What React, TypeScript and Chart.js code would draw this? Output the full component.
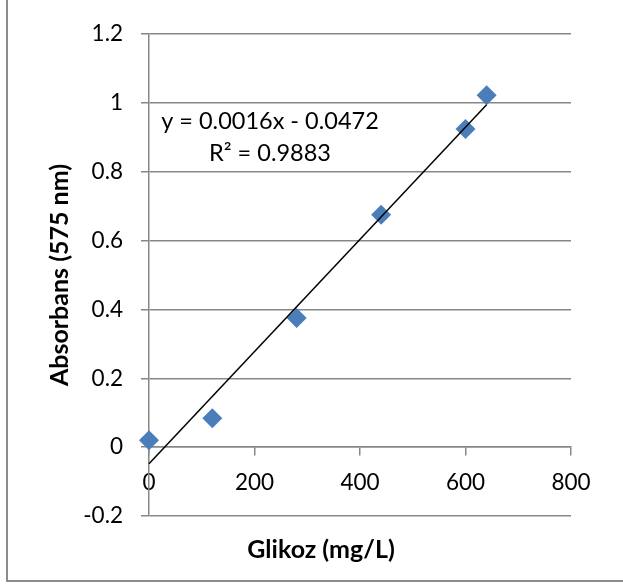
import React, { useEffect, useRef } from 'react';
import { Chart, registerables } from 'chart.js';

Chart.register(...registerables);

// ---- data ----
const glucose = [0, 120, 280, 440, 600, 640];
const absorbance = [0.02, 0.084, 0.375, 0.675, 0.924, 1.022];
const xTicks = [0, 200, 400, 600, 800];
const yTicks = [-0.2, 0, 0.2, 0.4, 0.6, 0.8, 1, 1.2];
const equationLines = ['y = 0.0016x - 0.0472', 'R² = 0.9883'];
const xTitle = 'Glikoz (mg/L)';
const yTitle = 'Absorbans (575 nm)';

// least-squares trend line computed from the data
function linearFit(xs: number[], ys: number[]) {
  const n = xs.length;
  const mx = xs.reduce((a, b) => a + b, 0) / n;
  const my = ys.reduce((a, b) => a + b, 0) / n;
  let sxy = 0;
  let sxx = 0;
  for (let i = 0; i < n; i++) {
    sxy += (xs[i] - mx) * (ys[i] - my);
    sxx += (xs[i] - mx) * (xs[i] - mx);
  }
  const m = sxy / sxx;
  return { m, b: my - m * mx };
}

const FONT = 'Lato, "Noto Sans", sans-serif';
const GRID = '#878787';

export default function App() {
  const ref = useRef<HTMLCanvasElement | null>(null);

  useEffect(() => {
    if (!ref.current) return;
    const { m, b } = linearFit(glucose, absorbance);
    const xMin = Math.min(...glucose);
    const xMax = Math.max(...glucose);
    const trend = [xMin, xMax].map((x) => ({ x, y: m * x + b }));
    const points = glucose.map((x, i) => ({ x, y: absorbance[i] }));

    const decorations = {
      id: 'decorations',
      afterDraw(chart: any) {
        const ctx = chart.ctx as CanvasRenderingContext2D;
        ctx.save();
        // outer chart frame (left and bottom edges visible)
        ctx.strokeStyle = '#8c8c8c';
        ctx.lineWidth = 2;
        ctx.beginPath();
        ctx.moveTo(7, 0);
        ctx.lineTo(7, 581);
        ctx.lineTo(623, 581);
        ctx.stroke();
        // trendline label
        ctx.fillStyle = '#000';
        ctx.textAlign = 'center';
        ctx.textBaseline = 'middle';
        ctx.font = `23.5px ${FONT}`;
        ctx.fillText(equationLines[0], 270, 121);
        ctx.fillText(equationLines[1], 270, 153);
        // axis titles
        ctx.font = `bold 25px ${FONT}`;
        ctx.fillText(xTitle, 321, 550);
        ctx.translate(60, 275);
        ctx.rotate(-Math.PI / 2);
        ctx.fillText(yTitle, 0, 0);
        ctx.restore();
      },
    };

    const chart = new Chart(ref.current, {
      type: 'scatter',
      data: {
        datasets: [
          {
            type: 'line',
            data: trend,
            borderColor: '#000',
            borderWidth: 1.5,
            pointRadius: 0,
            fill: false,
            clip: false,
          },
          {
            type: 'scatter',
            data: points,
            backgroundColor: '#4a7ebb',
            borderColor: '#4a7ebb',
            borderWidth: 0,
            pointStyle: 'rectRot',
            pointRadius: 10,
            clip: false,
          },
        ],
      } as any,
      options: {
        animation: false,
        responsive: false,
        maintainAspectRatio: false,
        layout: { padding: { left: 0, top: 34, right: 52, bottom: 69 } },
        plugins: { legend: { display: false }, tooltip: { enabled: false } },
        scales: {
          x: {
            type: 'linear',
            position: { y: 0 } as any,
            min: xTicks[0],
            max: xTicks[xTicks.length - 1],
            afterBuildTicks: (s: any) => {
              s.ticks = xTicks.map((v) => ({ value: v }));
            },
            afterFit: (s: any) => {
              s.height = 0;
            },
            ticks: {
              color: '#000',
              font: { family: FONT, size: 22.5 },
              padding: 14,
              maxRotation: 0,
              autoSkip: false,
            },
            grid: {
              drawOnChartArea: false,
              drawTicks: true,
              tickLength: 8,
              color: GRID,
              lineWidth: 1.5,
            },
            border: { display: true, color: GRID, width: 1.5 },
          },
          y: {
            type: 'linear',
            min: yTicks[0],
            max: yTicks[yTicks.length - 1],
            afterBuildTicks: (s: any) => {
              s.ticks = yTicks.map((v) => ({ value: v }));
            },
            afterFit: (s: any) => {
              s.width = 149;
            },
            ticks: {
              color: '#000',
              font: { family: FONT, size: 22.5 },
              padding: 18,
              autoSkip: false,
              callback: (v: any) => String(Number(Number(v).toFixed(2))),
            },
            grid: {
              drawTicks: true,
              tickLength: 8,
              color: GRID,
              lineWidth: 1.5,
            },
            border: { display: true, color: GRID, width: 1.5 },
          },
        },
      },
      plugins: [decorations],
    } as any);

    if ((document as any).fonts) {
      Promise.all([
        (document as any).fonts.load(`22px Lato`),
        (document as any).fonts.load(`bold 22px Lato`),
      ])
        .then(() => chart.update())
        .catch(() => {});
    }

    return () => chart.destroy();
  }, []);

  return (
    <div style={{ position: 'fixed', left: 0, top: 0, width: 623, height: 585, background: '#fff' }}>
      <canvas ref={ref} width={623} height={585} style={{ display: 'block', width: 623, height: 585 }} />
    </div>
  );
}
